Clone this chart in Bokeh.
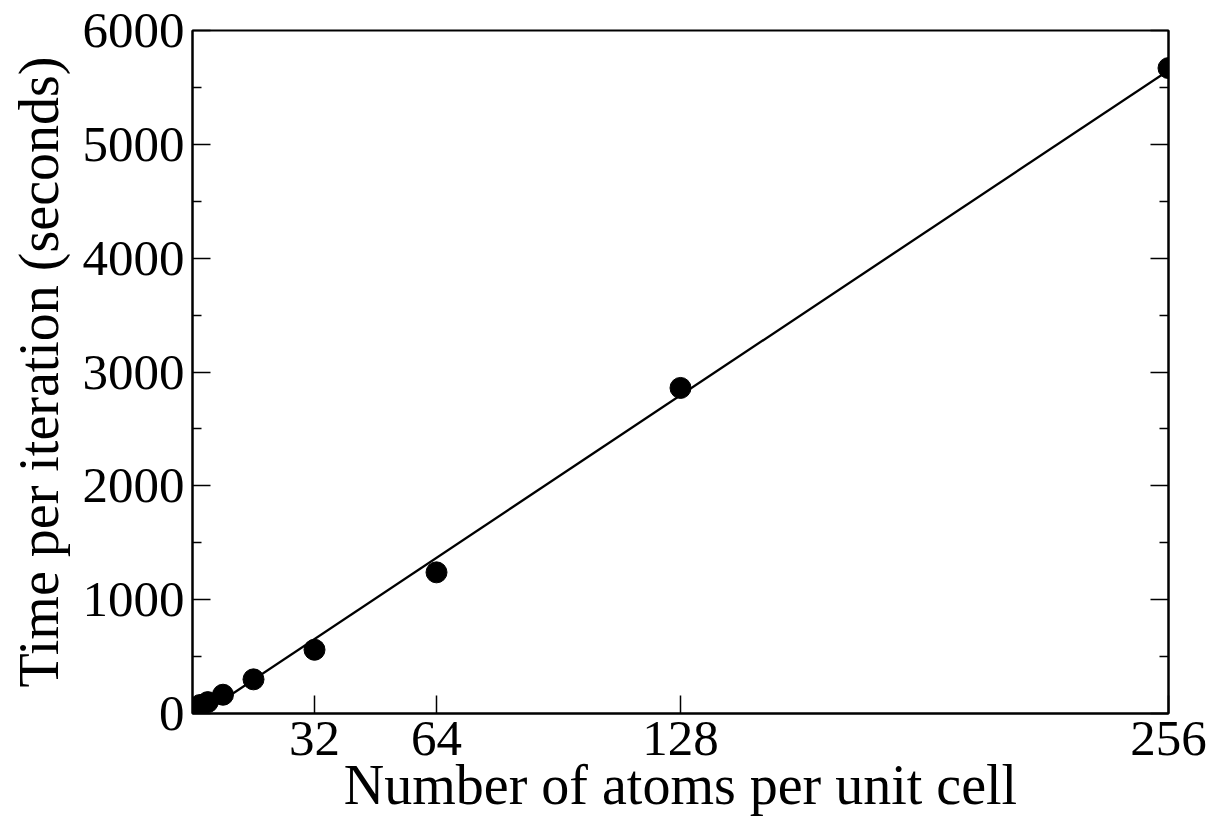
from bokeh.plotting import figure
from bokeh.models import Range1d, FixedTicker, LinearAxis
from bokeh.embed import file_html
from bokeh.resources import INLINE

# data
atoms = [1, 2, 4, 8, 16, 32, 64, 128, 256]
time_s = [50, 75, 100, 165, 300, 560, 1240, 2860, 5670]
fit_x = [3, 256]
fit_y = [7, 5650]
x_ticks = [32, 64, 128, 256]
y_ticks = [0, 1000, 2000, 3000, 4000, 5000, 6000]
y_minor = [500, 1500, 2500, 3500, 4500, 5500]

FONT = "Liberation Serif"

p = figure(width=1228, height=818, output_backend="svg", toolbar_location=None,
           x_range=Range1d(0, 256), y_range=Range1d(0, 6000),
           min_border_left=192, min_border_right=60, min_border_top=30,
           min_border_bottom=105)
p.background_fill_color = "white"
p.border_fill_color = "white"
p.xgrid.visible = False
p.ygrid.visible = False
p.outline_line_color = "black"
p.outline_line_width = 2

p.line(fit_x, fit_y, line_color="black", line_width=2.3)
p.scatter(atoms, time_s, size=21, fill_color="black", line_color="black")

xa = p.xaxis[0]
xa.ticker = FixedTicker(ticks=x_ticks, minor_ticks=[])
xa.axis_label = "Number of atoms per unit cell"
ya = p.yaxis[0]
ya.ticker = FixedTicker(ticks=y_ticks, minor_ticks=y_minor)
ya.axis_label = "Time per iteration (seconds)"

for ax in (xa, ya):
    ax.axis_line_color = "black"
    ax.axis_line_width = 2
    ax.major_tick_in = 18
    ax.major_tick_out = 0
    ax.minor_tick_in = 9
    ax.minor_tick_out = 0
    ax.major_tick_line_width = 1.5
    ax.minor_tick_line_width = 1.5
    ax.major_label_text_font = FONT
    ax.major_label_text_font_size = "51px"
    ax.major_label_text_color = "black"
    ax.axis_label_text_font = FONT
    ax.axis_label_text_font_size = "56px"
    ax.axis_label_text_font_style = "normal"
    ax.axis_label_text_color = "black"

xa.major_label_standoff = 8
xa.axis_label_standoff = -4
ya.major_label_standoff = 8
ya.axis_label_standoff = 10

ra = LinearAxis(ticker=FixedTicker(ticks=y_ticks, minor_ticks=y_minor))
ra.major_label_text_font_size = "0px"
ra.major_label_text_color = None
ra.axis_line_width = 2
ra.major_tick_in = 18
ra.major_tick_out = 0
ra.minor_tick_in = 9
ra.minor_tick_out = 0
ra.major_tick_line_width = 1.5
ra.minor_tick_line_width = 1.5
ra.major_label_standoff = 0
p.add_layout(ra, "right")

open("out.html", "w").write(file_html(p, INLINE))
